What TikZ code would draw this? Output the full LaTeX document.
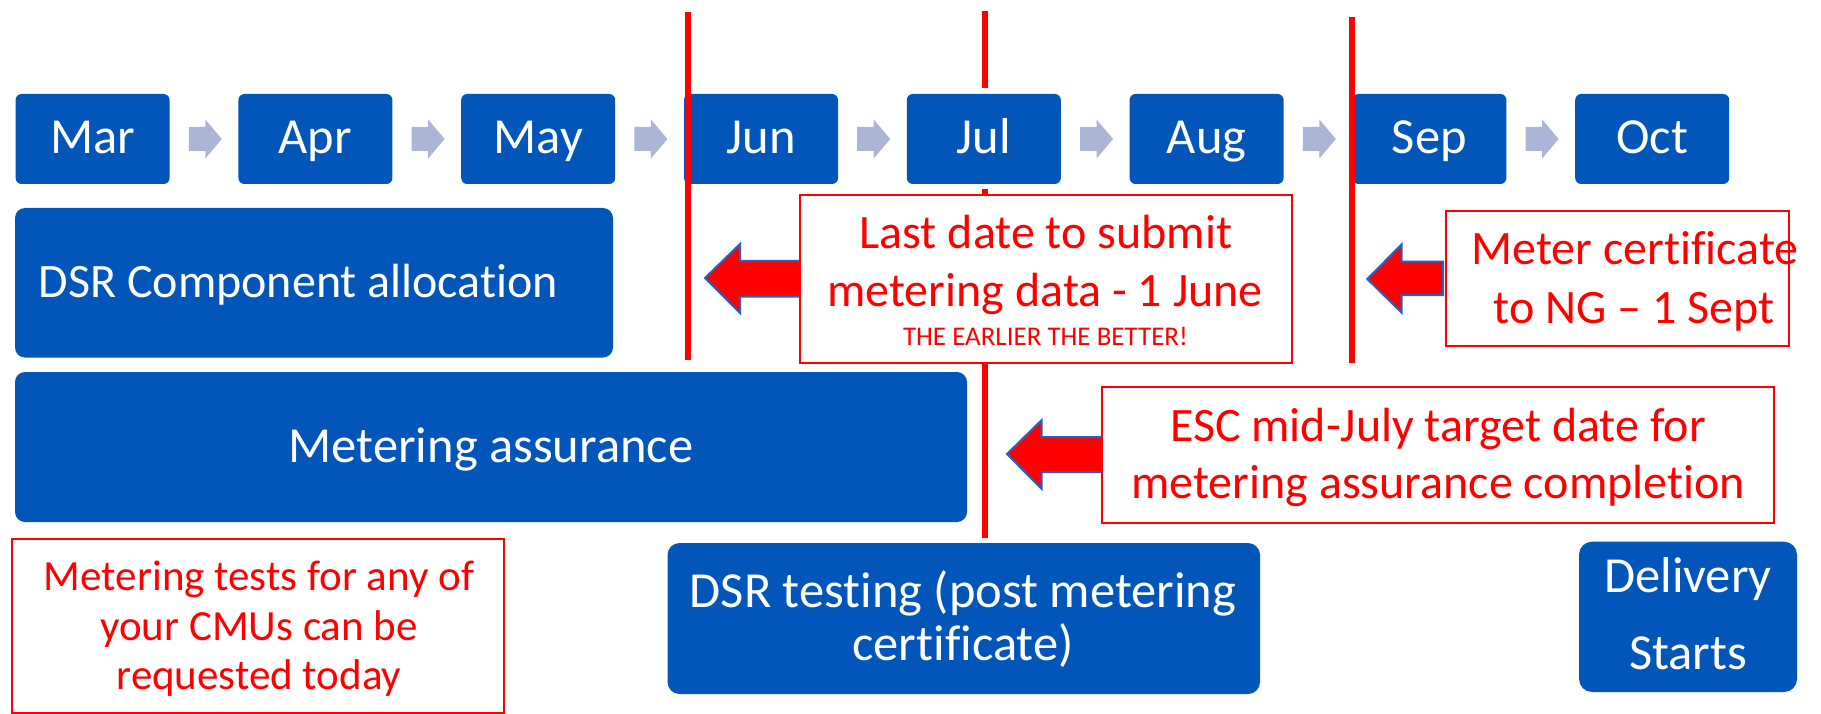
\documentclass[tikz,border=0pt]{standalone}
\usepackage{fontspec}
\setmainfont{Carlito}[Ligatures={NoCommon}]
\usetikzlibrary{calc}
\definecolor{boxblue}{RGB}{2,86,185}
\definecolor{chevcol}{RGB}{170,181,215}
\definecolor{rred}{RGB}{255,0,0}
\definecolor{arrline}{RGB}{40,96,196}
\newcommand\chevron[1]{\fill[chevcol] ($(#1.east)+(19,-12)$) -- ++(16.5,0) -- ++(0,-7.5) -- ++(16.5,19.5) -- ++(-16.5,19.5) -- ++(0,-7.5) -- ++(-16.5,0) -- cycle;}
\begin{document}
\begin{tikzpicture}[x=1pt,y=-1pt,
  month/.style={fill=boxblue, rounded corners=6pt, minimum width=154pt, minimum height=90pt, inner sep=0pt,
    text=white, font=\fontsize{50.5}{60}\selectfont, text height=29pt, text depth=0pt},
  bluebox/.style={fill=boxblue, inner sep=0pt},
  redbox/.style={fill=white, draw=rred, line width=2pt, inner sep=0pt},
  wlbl/.style={anchor=base, inner sep=0pt, text=white, font=\fontsize{50.5}{60}\selectfont},
  rlbl/.style={anchor=base, inner sep=0pt, text=rred, font=\fontsize{48}{58}\selectfont},
  tlbl/.style={anchor=base, inner sep=0pt, text=rred, font=\fontsize{43}{52}\selectfont},
  slbl/.style={anchor=base, inner sep=0pt, text=rred, font=\fontsize{27}{32}\selectfont},
  redline/.style={draw=rred, line width=6pt},
  redarrow/.style={fill=rred, draw=arrline, line width=2pt, line join=miter}]
\useasboundingbox (0,0) rectangle (1821,714);
\fill[white] (0,0) rectangle (1821,714);

% red line 2 (behind)
\draw[redline] (985,11) -- (985,88);
\draw[redline] (985,189) -- (985,538);

% month boxes
\node[month] (mar) at (92.6,139) {Mar};
\node[month] (apr) at (315.4,139) {Apr};
\node[month] (may) at (538.2,139) {May};
\node[month] (jun) at (761,139) {Jun};
\node[month] (jul) at (983.8,139) {Jul};
\node[month] (aug) at (1206.6,139) {Aug};
\node[month] (sep) at (1429.4,139) {Sep};
\node[month] (oct) at (1652.2,139) {Oct};
\chevron{mar}
\chevron{apr}
\chevron{may}
\chevron{jun}
\chevron{jul}
\chevron{aug}
\chevron{sep}

% blue bars
\node[bluebox, rounded corners=10pt, minimum width=598pt, minimum height=149.5pt] (dsrc) at (314,282.75) {};
\node[wlbl, font=\fontsize{48}{58}\selectfont] (dsrct) at (298.5,297) {DSR Component allocation};
\node[bluebox, rounded corners=10pt, minimum width=952pt, minimum height=150pt] (ma) at (491,447) {};
\node[wlbl] (mat) at (491,462) {Metering assurance};
\node[bluebox, rounded corners=12pt, minimum width=592.5pt, minimum height=151pt] (dsrt) at (963.75,618.5) {};
\node[wlbl] (dsrt1) at (963,607) {DSR testing (post metering};
\node[wlbl] (dsrt2) at (963,660) {certificate)};
\node[bluebox, rounded corners=13pt, minimum width=218pt, minimum height=150.3pt] (del) at (1688,616.85) {};
\node[wlbl] (del1) at (1688,592) {Delivery};
\node[wlbl] (del2) at (1688,669) {Starts};

% red block arrows
\draw[redarrow] (705,278) -- (740,244) -- (740,261) -- (808,261) -- (808,296.7) -- (740,296.7) -- (740,313) -- cycle;
\draw[redarrow] (1007,454) -- (1041.7,420) -- (1041.7,437) -- (1110,437) -- (1110,472) -- (1041.7,472) -- (1041.7,489) -- cycle;
\draw[redarrow] (1367.3,279) -- (1401.7,244.3) -- (1401.7,261.7) -- (1443,261.7) -- (1443,295) -- (1401.7,295) -- (1401.7,312.7) -- cycle;

% red note boxes
\node[redbox, minimum width=492.5pt, minimum height=168pt] (last) at (1045.75,278.7) {};
\node[rlbl] (last1) at (1046,248.3) {Last date to submit};
\node[rlbl] (last2) at (1045,306.7) {metering data - 1 June};
\node[slbl] (last3) at (1045.5,345) {THE EARLIER THE BETTER!};

\node[redbox, minimum width=343.3pt, minimum height=135pt] (cert) at (1617.35,278.5) {};
\node[rlbl] (cert1) at (1635,264.3) {Meter certificate};
\node[rlbl] (cert2) at (1634,323) {to NG – 1 Sept};

\node[redbox, minimum width=672.3pt, minimum height=136pt] (esc) at (1437.85,454.7) {};
\node[rlbl] (esc1) at (1438,441) {ESC mid-July target date for};
\node[rlbl] (esc2) at (1438,498) {metering assurance completion};

\node[redbox, minimum width=491.7pt, minimum height=173.7pt] (tests) at (258.15,625.85) {};
\node[tlbl] (tests1) at (259,590) {Metering tests for any of};
\node[tlbl] (tests2) at (259,640) {your CMUs can be};
\node[tlbl] (tests3) at (259,689) {requested today};

% red lines in front
\draw[redline] (688,12) -- (688,360);
\draw[redline] (1352,17) -- (1352,363);
\end{tikzpicture}
\end{document}
